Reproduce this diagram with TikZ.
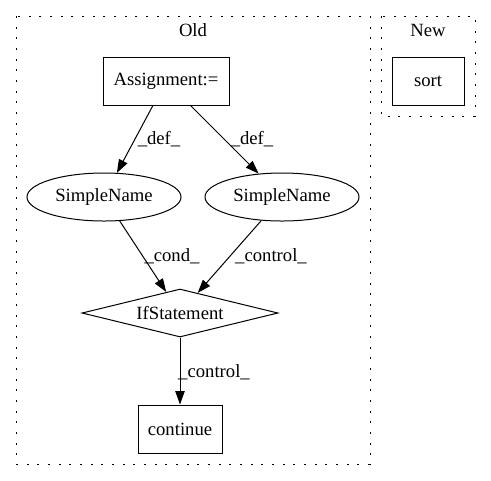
\documentclass[tikz,border=0pt]{standalone}
\usepackage{fontspec}
\setmainfont{Liberation Serif}
\usetikzlibrary{shapes.geometric,arrows.meta}

\begin{document}
\begin{tikzpicture}[x=0.75pt, y=-0.75pt, font=\fontsize{14pt}{16pt}\selectfont,
    boxnode/.style={rectangle, draw=black, line width=0.75pt, inner sep=0pt, minimum height=36pt},
    ovalnode/.style={ellipse, draw=black, line width=0.75pt, inner sep=0pt, minimum width=115.5pt, minimum height=36pt},
    condnode/.style={diamond, draw=black, line width=0.75pt, inner sep=0pt, aspect=4.08, minimum width=147pt, minimum height=36pt},
    clusterbox/.style={draw=black, line width=0.75pt, dash pattern=on 1.5pt off 6.5pt},
    edgelabel/.style={anchor=base, inner sep=0pt},
    flow/.style={-{Triangle[length=10pt, width=7pt]}, line width=0.75pt}]
        \useasboundingbox (0,0) rectangle (491,480);

        % Clusters
        \draw[clusterbox] (16,16) rectangle (370,464);
        \draw[clusterbox] (381,16) rectangle (475,116);
        \node[edgelabel] (oldlabel) at (193,36) {Old};
        \node[edgelabel] (newlabel) at (428,36) {New};

        % Nodes
        \node[boxnode, minimum width=94.5pt] (assign) at (166,81) {Assignment:=};
        \node[ovalnode] (nameA) at (104,197) {SimpleName};
        \node[ovalnode] (nameB) at (282,197) {SimpleName};
        \node[condnode] (ifstmt) at (180,313) {IfStatement};
        \node[boxnode, minimum width=63pt] (cont) at (180,429) {continue};
        \node[boxnode, minimum width=54pt] (sort) at (428,81) {sort};

        % Edges
        \draw[flow] (assign) -- (nameA);
        \draw[flow] (assign) -- (nameB);
        \draw[flow] (nameA) -- (ifstmt);
        \draw[flow] (nameB) -- (ifstmt);
        \draw[flow] (ifstmt) -- (cont);

        % Edge labels
        \node[edgelabel] (defA) at (159,144) {\_def\_};
        \node[edgelabel] (defB) at (252,144) {\_def\_};
        \node[edgelabel] (condA) at (172,261) {\_cond\_};
        \node[edgelabel] (ctrlB) at (271,261) {\_control\_};
        \node[edgelabel] (ctrlC) at (214,377) {\_control\_};
    \end{tikzpicture}
\end{document}
